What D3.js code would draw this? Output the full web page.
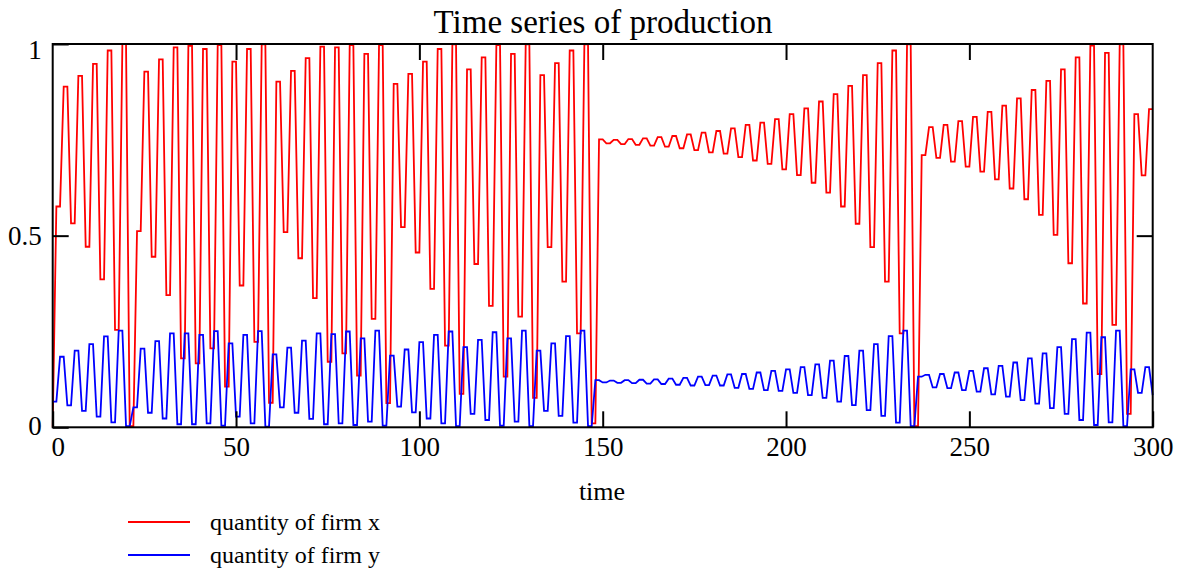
<!DOCTYPE html>
<html>
<head>
<meta charset="utf-8">
<script src="https://cdn.jsdelivr.net/npm/d3@7/dist/d3.min.js"></script>
<style>
  html, body { margin: 0; padding: 0; background: #fff; }
  svg { display: block; }
  text { font-family: "Liberation Serif", "Times New Roman", serif; fill: #000; }
</style>
</head>
<body>
<svg id="chart" width="1184" height="582"></svg>
<script>
// ---- data ----
const title = "Time series of production";
const xLabel = "time";
const seriesNames = ["quantity of firm x", "quantity of firm y"];
const xTickValues = [0, 50, 100, 150, 200, 250, 300];
const yTickValues = [0, 0.5, 1];
const yTickLabels = ["0", "0.5", "1"];

// quantity of firm x, t = 0..300
const firmX = [
  0,
  .576,.576,.889,.889,.532,.532,.917,.917,.471,.471,.948,.948,.386,.386,.983,.983,.254,.254,1,1,
  .003,.003,.512,.512,.928,.928,.445,.445,.96,.96,.345,.345,.991,.991,.18,.18,.995,.995,.167,.167,
  .987,.987,.206,.206,.997,.997,.106,.106,.954,.954,.37,.37,.987,.987,.223,.223,.999,.999,.064,.064,
  .902,.902,.509,.509,.93,.93,.441,.441,.963,.963,.337,.337,.993,.993,.171,.171,.991,.991,.193,.193,
  .997,.997,.135,.135,.974,.974,.283,.283,.997,.997,.063,.063,.896,.896,.522,.522,.922,.922,.456,.456,
  .954,.954,.361,.361,.987,.987,.213,.213,.999,.999,.087,.087,.934,.934,.426,.426,.965,.965,.317,.317,
  .997,.997,.132,.132,.974,.974,.289,.289,.999,.999,.077,.077,.919,.919,.47,.47,.95,.95,.38,.38,
  .983,.983,.245,.245,.999,.999,.01,.01,.751,.751,.741,.741,.75,.75,.739,.739,.752,.752,.737,.737,
  .754,.754,.735,.735,.757,.757,.732,.732,.76,.76,.728,.728,.764,.764,.723,.723,.769,.769,.717,.717,
  .773,.773,.714,.714,.78,.78,.705,.705,.789,.789,.696,.696,.795,.795,.687,.687,.804,.804,.673,.673,
  .817,.817,.658,.658,.832,.832,.638,.638,.85,.85,.612,.612,.869,.869,.576,.576,.891,.891,.531,.531,
  .919,.919,.47,.47,.95,.95,.38,.38,.983,.983,.245,.245,.999,.999,.003,.003,.71,.71,.783,.783,
  .703,.703,.789,.789,.693,.693,.799,.799,.68,.68,.81,.81,.667,.667,.823,.823,.647,.647,.839,.839,
  .623,.623,.858,.858,.595,.595,.88,.88,.554,.554,.904,.904,.502,.502,.934,.934,.428,.428,.965,.965,
  .323,.323,.996,.996,.139,.139,.977,.977,.267,.267,.999,.999,.035,.035,.817,.817,.657,.657,.83,.83
];

// quantity of firm y, t = 0..300
const firmY = [
  .067,.067,.184,.184,.057,.057,.2,.2,.043,.043,.217,.217,.028,.028,.237,.237,.013,.013,.252,.252,
  .003,.003,.052,.052,.205,.205,.038,.038,.225,.225,.023,.023,.245,.245,.008,.008,.245,.245,.008,.008,
  .241,.241,.01,.01,.251,.251,.004,.004,.219,.219,.028,.028,.241,.241,.01,.01,.251,.251,.002,.002,
  .19,.19,.052,.052,.208,.208,.038,.038,.226,.226,.022,.022,.245,.245,.008,.008,.243,.243,.01,.01,
  .25,.25,.006,.006,.232,.232,.015,.015,.252,.252,.004,.004,.187,.187,.054,.054,.203,.203,.039,.039,
  .222,.222,.023,.023,.241,.241,.01,.01,.25,.25,.003,.003,.209,.209,.035,.035,.228,.228,.019,.019,
  .248,.248,.004,.004,.232,.232,.015,.015,.252,.252,.003,.003,.2,.2,.043,.043,.219,.219,.03,.03,
  .238,.238,.012,.012,.252,.252,.003,.003,.123,.123,.117,.117,.122,.122,.116,.116,.123,.123,.115,.115,
  .124,.124,.114,.114,.125,.125,.113,.113,.127,.127,.111,.111,.129,.129,.109,.109,.132,.132,.11,.11,
  .135,.135,.109,.109,.138,.138,.103,.103,.139,.139,.1,.1,.143,.143,.097,.097,.147,.147,.095,.095,
  .151,.151,.09,.09,.157,.157,.084,.084,.164,.164,.077,.077,.174,.174,.067,.067,.186,.186,.058,.058,
  .2,.2,.045,.045,.217,.217,.03,.03,.238,.238,.012,.012,.252,.252,.003,.003,.132,.132,.137,.137,
  .104,.104,.139,.139,.102,.102,.143,.143,.097,.097,.147,.147,.093,.093,.154,.154,.086,.086,.16,.16,
  .08,.08,.169,.169,.071,.071,.18,.18,.062,.062,.193,.193,.05,.05,.209,.209,.035,.035,.23,.23,
  .019,.019,.247,.247,.006,.006,.235,.235,.013,.013,.252,.252,.003,.003,.151,.151,.09,.09,.157,.157,
  .084
];

const seriesColors = ["#ff0000", "#0000ff"];

// ---- layout ----
const svg = d3.select("#chart");
const L = 52.7, R = 1152.7, T = 44, B = 427.3;
const x = d3.scaleLinear().domain([0, 300]).range([L, R]);
const y = d3.scaleLinear().domain([0, 1]).range([B, T]);

const fontSize = 27;

// title
svg.append("text")
  .attr("x", 603).attr("y", 33)
  .attr("text-anchor", "middle")
  .style("font-size", "33px")
  .text(title);

// series lines
const line = d3.line().x((d, i) => x(i)).y(d => y(d));
[firmX, firmY].forEach((s, k) => {
  svg.append("path")
    .datum(s)
    .attr("fill", "none")
    .attr("stroke", seriesColors[k])
    .attr("stroke-width", 1.8)
    .attr("stroke-linejoin", "miter")
    .attr("d", line);
});

// axes (inward ticks)
const tickLen = 16;
const inner = xTickValues.filter(v => v > 0 && v < 300);

const gBottom = svg.append("g").attr("transform", `translate(0,${B})`)
  .call(d3.axisBottom(x).tickValues(xTickValues).tickSizeInner(-tickLen).tickSizeOuter(0).tickPadding(10).tickFormat(d3.format("d")));
gBottom.selectAll("text").style("font-size", fontSize + "px");
gBottom.selectAll(".tick").filter(d => d === 0).select("text").attr("x", 5);

const gTop = svg.append("g").attr("transform", `translate(0,${T})`)
  .call(d3.axisTop(x).tickValues(inner).tickSizeInner(-tickLen).tickSizeOuter(0).tickFormat(""));

const gLeft = svg.append("g").attr("transform", `translate(${L},0)`)
  .call(d3.axisLeft(y).tickValues(yTickValues).tickSizeInner(-tickLen).tickSizeOuter(0).tickPadding(11)
    .tickFormat((d, i) => yTickLabels[i]));
gLeft.selectAll("text").style("font-size", fontSize + "px");
gLeft.selectAll(".tick").filter(d => d === 1).select("text").attr("dy", "0.55em");
gLeft.selectAll(".tick").filter(d => d === 0).select("text").attr("dy", "0.25em");

const gRight = svg.append("g").attr("transform", `translate(${R},0)`)
  .call(d3.axisRight(y).tickValues([0.5]).tickSizeInner(-tickLen).tickSizeOuter(0).tickFormat(""));

[gBottom, gTop, gLeft, gRight].forEach(g => {
  g.select(".domain").remove();
  g.selectAll(".tick line").attr("stroke", "#000").attr("stroke-width", 2);
  g.selectAll("text").style("font-family", '"Liberation Serif", serif').attr("fill", "#000");
});

// frame
svg.append("rect")
  .attr("x", L).attr("y", T).attr("width", R - L).attr("height", B - T)
  .attr("fill", "none").attr("stroke", "#000").attr("stroke-width", 2);

// x label
svg.append("text")
  .attr("x", 602).attr("y", 500)
  .attr("text-anchor", "middle")
  .style("font-size", "26px")
  .text(xLabel);

// legend
const legY = [522, 555];
seriesNames.forEach((name, k) => {
  svg.append("line")
    .attr("x1", 128).attr("x2", 190)
    .attr("y1", legY[k]).attr("y2", legY[k])
    .attr("stroke", seriesColors[k]).attr("stroke-width", 1.8);
  svg.append("text")
    .attr("x", 210).attr("y", legY[k] + 8)
    .style("font-size", "24px")
    .text(name);
});
</script>
</body>
</html>
